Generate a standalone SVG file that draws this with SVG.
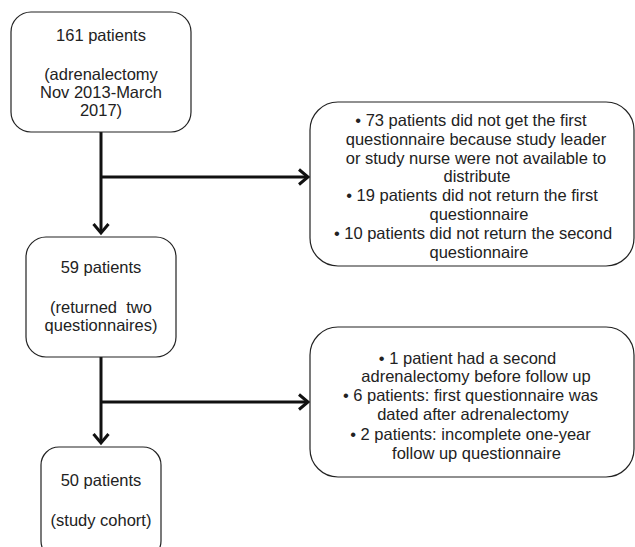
<svg xmlns="http://www.w3.org/2000/svg" width="635" height="547" viewBox="0 0 635 547">
<style>
.box{fill:#fff;stroke:#222;stroke-width:1.2}
.t{font-family:"Liberation Sans",Arial,sans-serif;font-size:16.5px;fill:#222;text-anchor:middle}
.c{fill:none;stroke:#111;stroke-width:3}
</style>
<defs>
<marker id="arr" markerUnits="userSpaceOnUse" markerWidth="16" markerHeight="20" viewBox="0 0 16 20" refX="12" refY="10" orient="auto">
<path d="M3,2.5 L12,10 L3,17.5" fill="none" stroke="#111" stroke-width="3"/>
</marker>
</defs>
<rect width="635" height="547" fill="#fff"/>
<g id="connectors">
<path class="c" d="M101,132 V233" marker-end="url(#arr)"/>
<path class="c" d="M101,177 H308" marker-end="url(#arr)"/>
<path class="c" d="M101,357 V443" marker-end="url(#arr)"/>
<path class="c" d="M101,402 H308" marker-end="url(#arr)"/>
</g>
<g id="n161">
<rect class="box" x="11" y="12" width="180" height="120" rx="20"/>
<text class="t" x="101" y="41">161 patients</text>
<text class="t" x="101" y="80">(adrenalectomy</text>
<text class="t" x="101" y="98">Nov 2013-March</text>
<text class="t" x="101" y="116">2017)</text>
</g>
<g id="excl1">
<rect class="box" x="310" y="102" width="324" height="164" rx="28"/>
<text class="t" x="471" y="126">• 73 patients did not get the first</text>
<text class="t" x="476" y="145">questionnaire because study leader</text>
<text class="t" x="476" y="164">or study nurse were not available to</text>
<text class="t" x="477" y="182">distribute</text>
<text class="t" x="472" y="201">• 19 patients did not return the first</text>
<text class="t" x="479" y="220">questionnaire</text>
<text class="t" x="473" y="239">• 10 patients did not return the second</text>
<text class="t" x="479" y="258">questionnaire</text>
</g>
<g id="n59">
<rect class="box" x="26" y="237" width="150" height="120" rx="20"/>
<text class="t" x="101" y="273">59 patients</text>
<text class="t" x="101" y="313" xml:space="preserve">(returned  two</text>
<text class="t" x="101" y="331">questionnaires)</text>
</g>
<g id="excl2">
<rect class="box" x="310" y="327" width="324" height="150" rx="28"/>
<text class="t" x="467.5" y="364">• 1 patient had a second</text>
<text class="t" x="476" y="382">adrenalectomy before follow up</text>
<text class="t" x="470.5" y="401">• 6 patients: first questionnaire was</text>
<text class="t" x="473" y="420">dated after adrenalectomy</text>
<text class="t" x="470.5" y="440">• 2 patients: incomplete one-year</text>
<text class="t" x="476.5" y="459">follow up questionnaire</text>
</g>
<g id="n50">
<rect class="box" x="41" y="447" width="120" height="112" rx="18"/>
<text class="t" x="101" y="486">50 patients</text>
<text class="t" x="101" y="526">(study cohort)</text>
</g>
</svg>
